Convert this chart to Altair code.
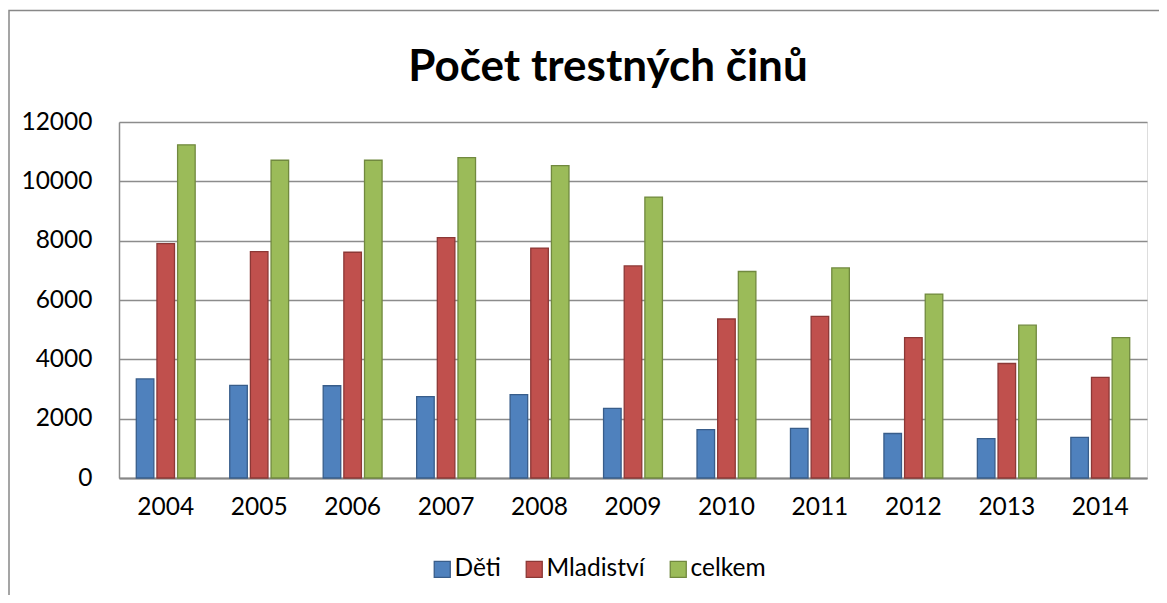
import altair as alt
import pandas as pd

years = ["2004", "2005", "2006", "2007", "2008", "2009", "2010", "2011", "2012", "2013", "2014"]
series = ["Děti", "Mladiství", "celkem"]
deti = [3340, 3120, 3110, 2740, 2810, 2350, 1630, 1670, 1500, 1330, 1370]
mladistvi = [7900, 7630, 7610, 8100, 7750, 7150, 5360, 5450, 4730, 3860, 3390]
celkem = [11230, 10710, 10710, 10800, 10530, 9470, 6960, 7080, 6200, 5150, 4730]
y_ticks = [0, 2000, 4000, 6000, 8000, 10000, 12000]

fill_colors = ["#4F81BD", "#C0504D", "#9BBB59"]
stroke_colors = ["#385D8A", "#8C3836", "#71893F"]

rows = []
for name, vals in zip(series, [deti, mladistvi, celkem]):
    for yr, v in zip(years, vals):
        rows.append({"rok": yr, "řada": name, "počet": v})
df = pd.DataFrame(rows)

FONT = "Lato"
FS = 24.5

legend_kw = dict(title=None, orient="none", legendX=311, legendY=435,
                 direction="horizontal", symbolType="square",
                 symbolSize=256, symbolStrokeWidth=1.3,
                 labelFontSize=FS, labelFont=FONT,
                 labelColor="#000000", labelOffset=0, columnPadding=21)

bars = alt.Chart(df).mark_bar(strokeWidth=1.3).encode(
    x=alt.X("rok:N", sort=years,
            scale=alt.Scale(paddingInner=0.37, paddingOuter=0.185),
            axis=alt.Axis(title=None, labelAngle=0, ticks=False, domain=True,
                          domainColor="#868686", domainWidth=2,
                          labelFontSize=FS, labelFont=FONT, labelColor="#000000",
                          labelPadding=17)),
    xOffset=alt.XOffset("řada:N", sort=series,
                        scale=alt.Scale(paddingInner=0.15, paddingOuter=0)),
    y=alt.Y("počet:Q",
            scale=alt.Scale(domain=[0, 12000], nice=False),
            axis=alt.Axis(title=None, values=y_ticks, format="d", ticks=False, domain=True,
                          domainColor="#8C8C8C", domainWidth=1.5,
                          grid=True, gridColor="#8C8C8C", gridWidth=1.5,
                          labelFontSize=FS, labelFont=FONT, labelColor="#000000",
                          labelPadding=27)),
    fill=alt.Fill("řada:N", sort=series,
                  scale=alt.Scale(domain=series, range=fill_colors),
                  legend=alt.Legend(**legend_kw)),
    stroke=alt.Stroke("řada:N", sort=series,
                      scale=alt.Scale(domain=series, range=stroke_colors),
                      legend=alt.Legend(**legend_kw)),
)

frame = alt.Chart(pd.DataFrame({"a": [0]})).mark_rect(
    fill=None, stroke="#888888", strokeWidth=1.5
).encode(
    x=alt.value(-110), x2=alt.value(1200),
    y=alt.value(-111.5), y2=alt.value(700),
)

chart = alt.layer(frame, bars).properties(
    width=1028, height=356,
    title=alt.TitleParams("Počet trestných činů", font=FONT, fontSize=44,
                          fontWeight="bold", color="#000000",
                          anchor="middle", frame="group", dx=-25, dy=80, offset=0),
    autosize=alt.AutoSizeParams(type="none"),
    padding={"left": 111, "top": 114, "right": 12, "bottom": 117},
).configure_view(
    fill="#E6E6E6", stroke=None
).configure(
    background="#FFFFFF"
)

chart.save("out.html", embed_options={"renderer": "svg", "actions": False})
